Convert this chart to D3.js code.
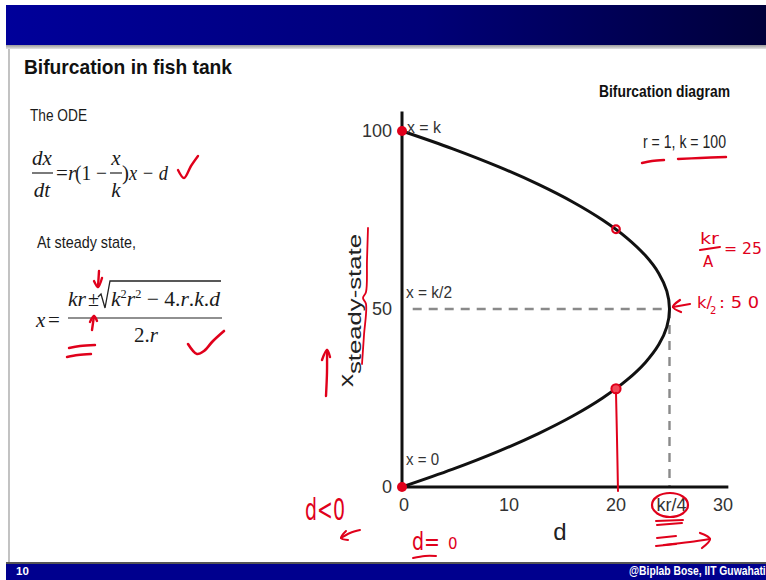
<!DOCTYPE html>
<html>
<head>
<meta charset="utf-8">
<script src="https://cdn.jsdelivr.net/npm/d3@7"></script>
<style>
  html, body { margin: 0; padding: 0; background: #fff; }
  svg { display: block; }
</style>
</head>
<body>
<script>
// Steady states of dx/dt = r(1 - x/k)x - d with r = 1, k = 100
const steadyX   = [0, 5, 10, 15, 20, 25, 30, 35, 40, 45, 50, 55, 60, 65, 70, 75, 80, 85, 90, 95, 100];
const harvestD  = [0, 4.75, 9, 12.75, 16, 18.75, 21, 22.75, 24, 24.75, 25, 24.75, 24, 22.75, 21, 18.75, 16, 12.75, 9, 4.75, 0];
const xTicks      = [0, 10, 20, 25, 30];
const xTickLabels = ["0", "10", "20", "kr/4", "30"];
const yTicks      = [0, 50, 100];
const yTickLabels = ["0", "50", "100"];
const markedD     = [0, 0, 20, 20];
const markedX     = [0, 100, 72.4, 27.6];
const foldD = 25, foldX = 50;

const W = 766, H = 580;
const RED = "#e0001b";
const SANS = "'Liberation Sans', Arial, sans-serif";
const SERIF = "'Liberation Serif', 'Times New Roman', serif";
const HAND = "'DejaVu Sans', sans-serif";

const svg = d3.select("body").append("svg").attr("width", W).attr("height", H);
const defs = svg.append("defs");

// slide frame
const g1 = defs.append("linearGradient").attr("id", "topbar");
g1.append("stop").attr("offset", "0%").attr("stop-color", "#00009a");
g1.append("stop").attr("offset", "55%").attr("stop-color", "#000078");
g1.append("stop").attr("offset", "100%").attr("stop-color", "#00003a");
const g2 = defs.append("linearGradient").attr("id", "shade").attr("x2", 0).attr("y2", 1);
g2.append("stop").attr("offset", "0%").attr("stop-color", "#9a9a9a");
g2.append("stop").attr("offset", "100%").attr("stop-color", "#e4e4e4");

svg.append("rect").attr("width", W).attr("height", H).attr("fill", "#fff");
svg.append("rect").attr("x", 6).attr("y", 5).attr("width", W - 6).attr("height", 40).attr("fill", "url(#topbar)");
svg.append("rect").attr("x", 6).attr("y", 45).attr("width", W - 6).attr("height", 4).attr("fill", "url(#shade)");
svg.append("line").attr("x1", 9).attr("x2", 9).attr("y1", 49).attr("y2", 563).attr("stroke", "#9a9a9a").attr("stroke-width", 1.2);
svg.append("rect").attr("x", 6).attr("y", 562).attr("width", W - 6).attr("height", 2).attr("fill", "#555");
svg.append("rect").attr("x", 6).attr("y", 564).attr("width", W - 6).attr("height", 16).attr("fill", "#00008e");
svg.append("text").attr("x", 16).attr("y", 575).attr("fill", "#fff")
  .attr("font-family", SANS).attr("font-weight", "bold").attr("font-size", 11.5).text("10");
svg.append("text").attr("transform", "translate(629,575) scale(0.86,1)").attr("fill", "#fff")
  .attr("font-family", SANS).attr("font-weight", "bold").attr("font-size", 12)
  .text("@Biplab Bose, IIT Guwahati");

// generic text helper
function txt(x, y, s, o = {}) {
  const t = svg.append("text").attr("x", x).attr("y", y)
    .attr("font-family", o.family || SANS).attr("font-size", o.size || 16)
    .attr("fill", o.fill || "#1a1a1a").text(s);
  if (o.weight) t.attr("font-weight", o.weight);
  if (o.style) t.attr("font-style", o.style);
  if (o.anchor) t.attr("text-anchor", o.anchor);
  if (o.len) t.attr("textLength", o.len).attr("lengthAdjust", "spacingAndGlyphs");
  return t;
}

// left column: title and equations
txt(24, 74, "Bifurcation in fish tank", { size: 21, weight: "bold", len: 208, fill: "#111" });
txt(30, 121, "The ODE", { size: 17, len: 57 });

// dx/dt = r(1 - x/k)x - d
txt(42, 165, "dx", { family: SERIF, style: "italic", size: 21, anchor: "middle" });
svg.append("line").attr("x1", 32).attr("x2", 53).attr("y1", 173).attr("y2", 173).attr("stroke", "#222").attr("stroke-width", 1.2);
txt(42, 197, "dt", { family: SERIF, style: "italic", size: 21, anchor: "middle" });
txt(56, 180, "=", { family: SERIF, size: 21 });
txt(68, 180, "r", { family: SERIF, style: "italic", size: 21 });
txt(75, 180, "(1 \u2212", { family: SERIF, size: 21, len: 32 });
txt(116, 165, "x", { family: SERIF, style: "italic", size: 21, anchor: "middle" });
svg.append("line").attr("x1", 110).attr("x2", 122).attr("y1", 173).attr("y2", 173).attr("stroke", "#222").attr("stroke-width", 1.2);
txt(116, 197, "k", { family: SERIF, style: "italic", size: 21, anchor: "middle" });
txt(122, 180, ")", { family: SERIF, size: 21 });
txt(129, 180, "x \u2212 d", { family: SERIF, style: "italic", size: 21, len: 39 });

txt(37, 248, "At steady state,", { size: 17, len: 99 });

// x = (kr ± sqrt(k²r² − 4.r.k.d)) / 2.r
txt(36, 327, "x", { family: SERIF, style: "italic", size: 21 });
txt(48, 327, "=", { family: SERIF, size: 21 });
txt(68, 306, "kr", { family: SERIF, style: "italic", size: 21, len: 18 });
txt(88, 306, "\u00b1", { family: SERIF, size: 20 });
svg.append("path").attr("d", "M98,297 L101,294 L105,308 L110,281 L221,281")
  .attr("fill", "none").attr("stroke", "#222").attr("stroke-width", 1.3);
const rad = txt(111, 306, "", { family: SERIF, style: "italic", size: 21 });
rad.append("tspan").text("k");
rad.append("tspan").attr("dy", -8).attr("font-size", 12).attr("font-style", "normal").text("2");
rad.append("tspan").attr("dy", 8).text("r");
rad.append("tspan").attr("dy", -8).attr("font-size", 12).attr("font-style", "normal").text("2");
rad.append("tspan").attr("dy", 8).attr("font-style", "normal").text(" \u2212 4.");
rad.append("tspan").text("r");
rad.append("tspan").attr("font-style", "normal").text(".");
rad.append("tspan").text("k");
rad.append("tspan").attr("font-style", "normal").text(".");
rad.append("tspan").text("d");
rad.attr("textLength", 109).attr("lengthAdjust", "spacingAndGlyphs");
svg.append("line").attr("x1", 68).attr("x2", 222).attr("y1", 318).attr("y2", 318).attr("stroke", "#222").attr("stroke-width", 1.2);
const den = txt(134, 342, "2.", { family: SERIF, size: 21 });
den.append("tspan").attr("font-style", "italic").text("r");

// bifurcation diagram
txt(599, 97, "Bifurcation diagram", { size: 17, weight: "bold", len: 131, fill: "#111" });
txt(643, 148, "r = 1, k = 100", { size: 18, len: 83, fill: "#222" });

const x = d3.scaleLinear().domain([0, 30]).range([402, 723]);
const y = d3.scaleLinear().domain([0, 100]).range([487, 131]);

// dashed guides to the fold point
const plot = svg.append("g");
plot.append("line").attr("x1", x(1)).attr("x2", x(foldD)).attr("y1", y(foldX)).attr("y2", y(foldX))
  .attr("stroke", "#8a8a8a").attr("stroke-width", 2.4).attr("stroke-dasharray", "9,7");
plot.append("line").attr("x1", x(foldD)).attr("x2", x(foldD)).attr("y1", y(foldX)).attr("y2", y(0))
  .attr("stroke", "#8a8a8a").attr("stroke-width", 2.4).attr("stroke-dasharray", "9,7");

// axes (lines only, labels drawn by d3.axis)
plot.append("line").attr("x1", x(-0.2)).attr("x2", x(30.5)).attr("y1", y(0)).attr("y2", y(0))
  .attr("stroke", "#111").attr("stroke-width", 3);
plot.append("line").attr("x1", x(0)).attr("x2", x(0)).attr("y1", y(-0.5)).attr("y2", y(105.5))
  .attr("stroke", "#111").attr("stroke-width", 3);

const xAxis = d3.axisBottom(x).tickValues(xTicks).tickSize(0).tickPadding(10)
  .tickFormat((d, i) => xTickLabels[i]);
const gx = svg.append("g").attr("transform", `translate(0,${y(0)})`).call(xAxis);
gx.select(".domain").remove();
gx.selectAll("text").attr("font-family", SANS).attr("font-size", 18).attr("fill", "#333")
  .attr("dy", "0.75em");
gx.selectAll(".tick").attr("transform", function (d) { return `translate(${x(d) + (d === 0 ? 2 : d === 25 ? 2 : 0)},0)`; });

const yAxis = d3.axisLeft(y).tickValues(yTicks).tickSize(0).tickPadding(10)
  .tickFormat((d, i) => yTickLabels[i]);
const gy = svg.append("g").attr("transform", `translate(${x(0)},0)`).call(yAxis);
gy.select(".domain").remove();
gy.selectAll("text").attr("font-family", SANS).attr("font-size", 18).attr("fill", "#333");

txt(560, 540, "d", { size: 24, anchor: "middle", fill: "#222" });

// y axis title: x with subscript "steady-state"
const yt = svg.append("text").attr("transform", "translate(353,387) rotate(-90) scale(1,0.8)")
  .attr("font-family", SANS).attr("fill", "#222");
yt.append("tspan").attr("font-size", 26).text("x");
yt.append("tspan").attr("font-size", 23).attr("dy", 10)
  .attr("textLength", 140).attr("lengthAdjust", "spacingAndGlyphs").text("steady-state");

// steady-state curve
const pts = steadyX.map((s, i) => [harvestD[i], s]);
plot.append("path").datum(pts)
  .attr("d", d3.line().x(d => x(d[0])).y(d => y(d[1])).curve(d3.curveCatmullRom.alpha(0.5)))
  .attr("fill", "none").attr("stroke", "#111").attr("stroke-width", 3);

txt(407, 133, "x = k", { size: 17, len: 34, fill: "#333" });
txt(406, 298, "x = k/2", { size: 17, len: 46, fill: "#333" });
txt(406, 465, "x = 0", { size: 17, len: 33, fill: "#333" });

// red marks
function stroke(points, w = 2.4) {
  return svg.append("path").datum(points)
    .attr("d", d3.line().curve(d3.curveCatmullRom))
    .attr("fill", "none").attr("stroke", RED).attr("stroke-width", w)
    .attr("stroke-linecap", "round").attr("stroke-linejoin", "round");
}
// points on the diagram
svg.append("circle").attr("cx", x(markedD[0])).attr("cy", y(markedX[0])).attr("r", 5).attr("fill", RED);
svg.append("circle").attr("cx", x(markedD[1])).attr("cy", y(markedX[1])).attr("r", 5).attr("fill", RED);
svg.append("circle").attr("cx", x(markedD[2])).attr("cy", y(markedX[2])).attr("r", 3.8)
  .attr("fill", "none").attr("stroke", RED).attr("stroke-width", 2.2);
svg.append("circle").attr("cx", x(markedD[3])).attr("cy", y(markedX[3])).attr("r", 4.6)
  .attr("fill", "#f24a5a").attr("stroke", RED).attr("stroke-width", 2);
stroke([[x(markedD[3]), y(markedX[3]) + 4], [x(markedD[3]) + 1, y(markedX[3]) + 50], [x(markedD[3]) + 2, y(0) + 4]], 2);

// check marks and arrows on the equations
stroke([[178, 170], [184, 178], [191, 166], [198, 156]]);
stroke([[188, 344], [197, 354], [204, 351], [213, 341], [224, 331]], 2.6);
stroke([[99, 271], [98, 287]]); stroke([[94, 281], [98, 287], [102, 278]]);
stroke([[92, 330], [94, 316]]); stroke([[90, 322], [94, 316], [97, 321]]);
stroke([[69, 348], [80, 346], [95, 345]]);
stroke([[67, 357], [78, 355], [91, 354]]);

// underlines of parameters
stroke([[642, 163], [652, 161], [664, 160]]);
stroke([[678, 159], [700, 158], [726, 157]]);

// brace beside the axis title
stroke([[368, 228], [367, 260], [366, 292], [363, 298], [366, 304], [364, 335], [362, 364]], 1.8);
// upward arrow
stroke([[326, 396], [327, 372], [327, 350]]); stroke([[322, 360], [327, 350], [330, 357]]);

// fold point notes
txt(700, 244, "kr", { family: HAND, size: 15, fill: RED, len: 19 });
stroke([[700, 250], [720, 247]], 2);
txt(703, 267, "A", { family: HAND, size: 15, fill: RED });
txt(724, 254, "= 25", { family: HAND, size: 15, fill: RED, len: 38 });
stroke([[690, 304], [673, 307]], 2.2); stroke([[680, 300], [673, 307], [681, 312]], 2.2);
txt(697, 308, "k/", { family: HAND, size: 15, fill: RED, len: 15 });
txt(710, 314, "2", { family: HAND, size: 10, fill: RED });
txt(719, 308, ": 5 0", { family: HAND, size: 15, fill: RED, len: 40 });

// circled kr/4 and the arrow to the right
svg.append("ellipse").attr("cx", 670).attr("cy", 505).attr("rx", 18).attr("ry", 12)
  .attr("fill", "none").attr("stroke", RED).attr("stroke-width", 2.2);
stroke([[656, 521], [683, 520]], 2); stroke([[657, 525], [682, 523]], 2);
stroke([[657, 538], [676, 536]], 2); stroke([[656, 546], [676, 544]], 2);
stroke([[664, 545], [690, 542], [710, 539]], 2.2); stroke([[700, 533], [710, 539], [702, 548]], 2.2);

// d < 0 and d = 0
txt(305, 520, "d<0", { family: HAND, size: 30, fill: RED, len: 40 });
stroke([[360, 530], [350, 533], [341, 538]], 2); stroke([[346, 531], [341, 538], [348, 540]], 2);
txt(412, 550, "d=", { family: HAND, size: 24, fill: RED, len: 28 });
txt(448, 549, "0", { family: HAND, size: 15, fill: RED });
stroke([[413, 558], [425, 556], [436, 556]], 2);
</script>
</body>
</html>
